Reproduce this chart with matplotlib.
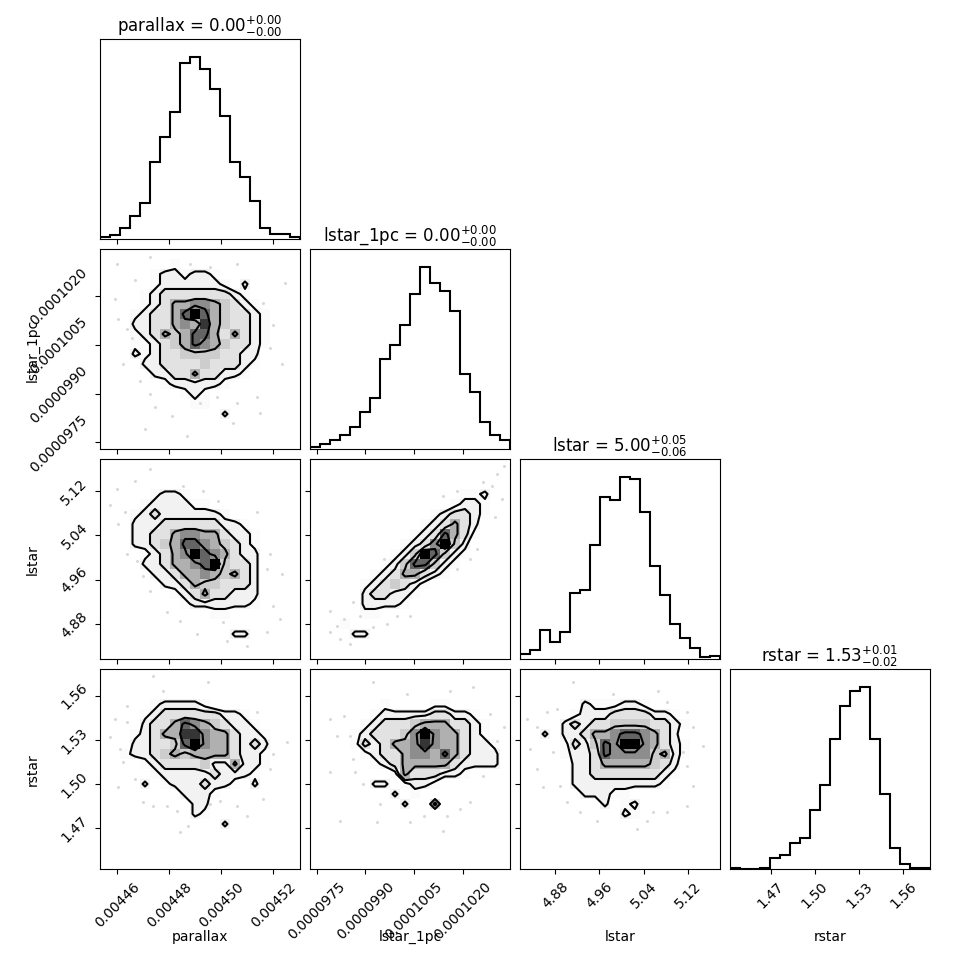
import matplotlib
matplotlib.use("Agg")
import matplotlib.pyplot as plt
import numpy as np
from matplotlib.colors import LinearSegmentedColormap

# ---- data ----
labels = ["parallax", "lstar_1pc", "lstar", "rstar"]
titles = [
    r"parallax = $0.00_{-0.00}^{+0.00}$",
    r"lstar_1pc = $0.00_{-0.00}^{+0.00}$",
    r"lstar = $5.00_{-0.06}^{+0.05}$",
    r"rstar = $1.53_{-0.02}^{+0.01}$",
]
ranges = [
    (0.0044533, 0.0045302),
    (0.0000973, 0.00010345),
    (4.8168, 5.178),
    (1.4425, 1.578),
]
ticks = [
    [0.00446, 0.00448, 0.00450, 0.00452],
    [0.0000975, 0.0000990, 0.0001005, 0.0001020],
    [4.88, 4.96, 5.04, 5.12],
    [1.47, 1.50, 1.53, 1.56],
]
tick_labels = [
    ["0.00446", "0.00448", "0.00450", "0.00452"],
    ["0.0000975", "0.0000990", "0.0001005", "0.0001020"],
    ["4.88", "4.96", "5.04", "5.12"],
    ["1.47", "1.50", "1.53", "1.56"],
]

# 1D histograms, 20 bins over each range (relative counts)
hist_parallax = [6, 13, 33, 69, 106, 229, 305, 380, 525, 543, 507, 449, 366, 231, 186, 113, 33, 16, 16, 7]
hist_lstar_1pc = [7, 14, 28, 42, 65, 111, 152, 269, 311, 371, 464, 544, 497, 472, 414, 225, 171, 80, 41, 27]
hist_lstar = [16, 27, 86, 52, 81, 197, 205, 341, 485, 477, 544, 539, 440, 278, 192, 105, 63, 33, 5, 8]
hist_rstar = [2, 0, 0, 4, 32, 41, 77, 92, 176, 251, 390, 488, 533, 544, 390, 225, 64, 15, 4, 2]
hists = [hist_parallax, hist_lstar_1pc, hist_lstar, hist_rstar]

# 2D histograms (20x20, relative density 0-9), first row = top of the panel
dens_lstar_1pc_parallax = [
    "00000000000000000000",
    "00000001000000000000",
    "00000122122100000000",
    "00000122222210200000",
    "00001233333332100000",
    "00001235566543210000",
    "00012335797543321000",
    "00022335658543321000",
    "00012354577535321000",
    "00011234576543321000",
    "00021233444433220000",
    "00002233334333210000",
    "00000223353322100000",
    "00000012222210000000",
    "00000000121000000000",
    "00000000011000000000",
    "00000000000020000000",
    "00000000000000000000",
    "00000000000000000000",
    "00000000000000000000",
]
dens_lstar_parallax = [
    "00000000000000000000",
    "00000000000000000000",
    "00000000000000000000",
    "00000122100000000000",
    "00001222211000000000",
    "00012322222210000000",
    "00022233333322100000",
    "00022335665532210000",
    "00022345776543210000",
    "00001235697653220000",
    "00002235567943320000",
    "00000223556545320000",
    "00000022354433320000",
    "00000001235332220000",
    "00000000122222210000",
    "00000000000110000000",
    "00000000000000000000",
    "00000000000002200000",
    "00000000000000000000",
    "00000000000000000000",
]
dens_lstar_lstar_1pc = [
    "00000000000000000000",
    "00000000000000000000",
    "00000000000000000000",
    "00000000000000011200",
    "00000000000000122100",
    "00000000000012332100",
    "00000000000123532000",
    "00000000001237531000",
    "00000000012369420000",
    "00000000124974210000",
    "00000001247742100000",
    "00000012355321000000",
    "00000123432100000000",
    "00000233221000000000",
    "00000222210000000000",
    "00000110000000000000",
    "00010000000000000000",
    "00002200000000000000",
    "00000000000000000000",
    "00000000000000000000",
]
dens_rstar_parallax = [
    "00000000000000000000",
    "00000000000000000000",
    "00000000000000000000",
    "00000122221000000000",
    "00001233333322100000",
    "00002335765432210000",
    "00012355886553221000",
    "00022334796553232000",
    "00122345455553221000",
    "00001233334225221000",
    "00000122222322210000",
    "00002012223221020000",
    "00000000222100000000",
    "00000000022000000000",
    "00000000021000000000",
    "00000000000020000000",
    "00000000000000000000",
    "00000000000000000000",
    "00000000000000000000",
    "00000000000000000000",
]
dens_rstar_lstar_1pc = [
    "00000000000000000000",
    "00000000000000000000",
    "00000000000000000000",
    "00000001000011000000",
    "00000012222233221000",
    "00000123334555332100",
    "00001233346965532100",
    "00001323556865532210",
    "00000123356657532220",
    "00000012355555322220",
    "00000000153332210000",
    "00000022012210000000",
    "00000000201000000000",
    "00000000020030000000",
    "00000000000000000000",
    "00000000000000000000",
    "00000000000000000000",
    "00000000000000000000",
    "00000000000000000000",
    "00000000000000000000",
]
dens_rstar_lstar = [
    "00000000000000000000",
    "00000000000000000000",
    "00000000000000000000",
    "00000021112210000000",
    "00000122233332210000",
    "00002323344443321000",
    "00202235567765320000",
    "00001324769965321000",
    "00001223766664521000",
    "00000223555554320000",
    "00000223333333210000",
    "00000222222222100000",
    "00000022211000000000",
    "00000000201200000000",
    "00000000002100000000",
    "00000000000000000000",
    "00000000000000000000",
    "00000000000000000000",
    "00000000000000000000",
    "00000000000000000000",
]

# outlying samples (faint dots outside the contours)
pts_lstar_1pc_parallax_x = [0.0044597, 0.0044725, 0.0044879, 0.0044956, 0.0045058, 0.0044668, 0.0044591,
                            0.0044603, 0.0044636, 0.0044655, 0.0044623, 0.0044687, 0.0044725, 0.0044744,
                            0.0044809, 0.0044918, 0.0044982, 0.0045058, 0.0045135, 0.0045148, 0.0045046,
                            0.0044866, 0.0044706, 0.0045199, 0.0045187, 0.0045231, 0.0045244, 0.0045161]
pts_lstar_1pc_parallax_y = [0.0001030, 0.0001032, 0.0001030, 0.0001029, 0.0001030, 0.0001025, 0.0001019,
                            0.0001013, 0.0001010, 0.0001007, 0.0000999, 0.0000994, 0.0000990, 0.0000986,
                            0.0000983, 0.0000987, 0.0000989, 0.0000987, 0.0000989, 0.0000984, 0.0000981,
                            0.0000977, 0.0000979, 0.0001011, 0.0001004, 0.0000999, 0.0001024, 0.0001018]
pts_lstar_parallax_x = [0.0044597, 0.0044668, 0.0044725, 0.0044853, 0.0044930, 0.0044988, 0.0044571,
                        0.0044629, 0.0044603, 0.0044636, 0.0044674, 0.0044700, 0.0044725, 0.0044789,
                        0.0044841, 0.0044905, 0.0045007, 0.0045020, 0.0045097, 0.0045174, 0.0045225,
                        0.0045199, 0.0045174, 0.0045187, 0.0045231, 0.0045135]
pts_lstar_parallax_y = [5.124, 5.139, 5.160, 5.130, 5.121, 5.103, 5.094, 5.082, 5.061, 5.006, 4.994,
                        4.967, 4.940, 4.901, 4.886, 4.862, 4.883, 4.850, 4.841, 4.865, 4.889, 4.913,
                        4.979, 5.006, 4.970, 5.082]
pts_lstar_lstar_1pc_x = [0.00010325, 0.00010304, 0.00010289, 0.00010319, 0.00010299, 0.00010263, 0.00010181,
                         0.00010140, 0.00010243, 0.00010222, 0.00010181, 0.00009884, 0.00009833, 0.00009812,
                         0.00009792, 0.00009822, 0.00009853, 0.00009925, 0.00009966, 0.00009997, 0.00010038,
                         0.00009863, 0.00009956, 0.00009792]
pts_lstar_lstar_1pc_y = [5.166, 5.151, 5.130, 5.106, 5.073, 5.136, 5.121, 5.112, 5.015, 4.997, 4.979, 4.895,
                         4.889, 4.877, 4.865, 4.853, 4.844, 4.874, 4.880, 4.895, 4.895, 4.919, 4.997, 4.904]
pts_rstar_parallax_x = [0.0044738, 0.0044950, 0.0044777, 0.0044636, 0.0044591, 0.0044636, 0.0044571,
                        0.0044610, 0.0044623, 0.0044603, 0.0044668, 0.0044700, 0.0044738, 0.0044789,
                        0.0044828, 0.0044841, 0.0044873, 0.0044956, 0.0044994, 0.0045058, 0.0045097,
                        0.0045161, 0.0045187, 0.0045199, 0.0045251, 0.0045135]
pts_rstar_parallax_y = [1.5735, 1.5690, 1.5633, 1.5532, 1.5441, 1.5419, 1.5317, 1.5238, 1.5148, 1.4978,
                        1.5035, 1.4877, 1.4854, 1.4854, 1.4820, 1.4674, 1.4719, 1.4865, 1.4888, 1.4854,
                        1.4786, 1.4899, 1.5103, 1.5204, 1.5283, 1.5486]
pts_rstar_lstar_1pc_x = [0.00009925, 0.00010027, 0.00010161, 0.00010232, 0.00010284, 0.00010325, 0.00010304,
                         0.00010263, 0.00010222, 0.00010191, 0.00010150, 0.00010140, 0.00010079, 0.00010038,
                         0.00009945, 0.00009894, 0.00009868, 0.00009792, 0.00009792, 0.00009833, 0.00009853,
                         0.00009812, 0.00009863, 0.00009935, 0.00009822]
pts_rstar_lstar_1pc_y = [1.5690, 1.5611, 1.5633, 1.5656, 1.5475, 1.5385, 1.5295, 1.5057, 1.4877, 1.4832,
                         1.4786, 1.4685, 1.4786, 1.4741, 1.4865, 1.5001, 1.5080, 1.5080, 1.5441, 1.5464,
                         1.5328, 1.5328, 1.5170, 1.4741, 1.4753]
pts_rstar_lstar_x = [4.9131, 4.9854, 5.0666, 5.0817, 5.1178, 5.1298, 5.1479, 5.1118, 5.1178, 5.1298,
                     5.1178, 5.0817, 5.0576, 5.0456, 5.0275, 4.9553, 4.9252, 4.9011, 4.8890, 4.8589,
                     4.8469, 4.8349, 4.8469, 4.8288, 4.8650, 4.8830, 4.8770]
pts_rstar_lstar_y = [1.5690, 1.5611, 1.5633, 1.5554, 1.5486, 1.5385, 1.5261, 1.5216, 1.5125, 1.4990,
                     1.4854, 1.4809, 1.4809, 1.4753, 1.4696, 1.4753, 1.4809, 1.4877, 1.4990, 1.4978,
                     1.5103, 1.5238, 1.5385, 1.5441, 1.5486, 1.5509, 1.5216]

panels_2d = {
    (1, 0): (dens_lstar_1pc_parallax, pts_lstar_1pc_parallax_x, pts_lstar_1pc_parallax_y),
    (2, 0): (dens_lstar_parallax, pts_lstar_parallax_x, pts_lstar_parallax_y),
    (2, 1): (dens_lstar_lstar_1pc, pts_lstar_lstar_1pc_x, pts_lstar_lstar_1pc_y),
    (3, 0): (dens_rstar_parallax, pts_rstar_parallax_x, pts_rstar_parallax_y),
    (3, 1): (dens_rstar_lstar_1pc, pts_rstar_lstar_1pc_x, pts_rstar_lstar_1pc_y),
    (3, 2): (dens_rstar_lstar, pts_rstar_lstar_x, pts_rstar_lstar_y),
}
contour_levels = [1.5, 2.5, 4.5, 6.5]

# ---- figure ----
K = len(labels)
nbins = 20
fig = plt.figure(figsize=(9.7, 9.7), dpi=100)
gs = fig.add_gridspec(K, K, left=0.1031, right=0.9588, bottom=0.1031, top=0.9588,
                      wspace=0.05, hspace=0.05)

density_cmap = LinearSegmentedColormap.from_list("density_cmap", ["k", (1, 1, 1, 0)])
white_cmap = LinearSegmentedColormap.from_list("white_cmap", [(1, 1, 1), (1, 1, 1)], N=2)

for i in range(K):
    for j in range(i + 1):
        ax = fig.add_subplot(gs[i, j])
        xedges = np.linspace(*ranges[j], nbins + 1)

        if i == j:
            ax.hist(xedges[:-1], bins=xedges, weights=hists[i], histtype="step",
                    color="k", lw=1.5)
            ax.set_ylim(0, 1.1 * max(hists[i]))
            ax.set_yticks([])
            ax.set_title(titles[i], fontsize=12)
        else:
            grid, px, py = panels_2d[(i, j)]
            yedges = np.linspace(*ranges[i], nbins + 1)
            H = np.array([[int(c) for c in row] for row in grid[::-1]], float)

            # samples, hidden under a white fill inside the lowest contour
            ax.plot(px, py, "o", color="k", ms=2.2, alpha=0.15, mec="none", zorder=-1)

            dx = xedges[1] - xedges[0]
            dy = yedges[1] - yedges[0]
            xc = np.linspace(xedges[0] - dx / 2, xedges[-1] + dx / 2, nbins + 2)
            yc = np.linspace(yedges[0] - dy / 2, yedges[-1] + dy / 2, nbins + 2)
            H2 = np.pad(H, 1)
            ax.contourf(xc, yc, H2, [contour_levels[0], H.max()], cmap=white_cmap,
                        antialiased=False)
            ax.pcolormesh(xedges, yedges, H.max() - H, cmap=density_cmap,
                          shading="flat", antialiased=False, edgecolors="none")
            ax.contour(xc, yc, H2, contour_levels, colors="k", linewidths=1.5)

            ax.set_ylim(ranges[i])
            ax.set_yticks(ticks[i])
            if j == 0:
                ax.set_yticklabels(tick_labels[i], rotation=45, va="center")
                ax.set_ylabel(labels[i], fontsize=10)
                ax.yaxis.set_label_coords(-0.3, 0.5)
            else:
                ax.set_yticklabels([])

        ax.set_xlim(ranges[j])
        ax.set_xticks(ticks[j])
        if i == K - 1:
            ax.set_xticklabels(tick_labels[j], rotation=45, ha="center")
            ax.set_xlabel(labels[j], fontsize=10)
            ax.xaxis.set_label_coords(0.5, -0.3)
        else:
            ax.set_xticklabels([])

fig.savefig("out.png", dpi=100)
